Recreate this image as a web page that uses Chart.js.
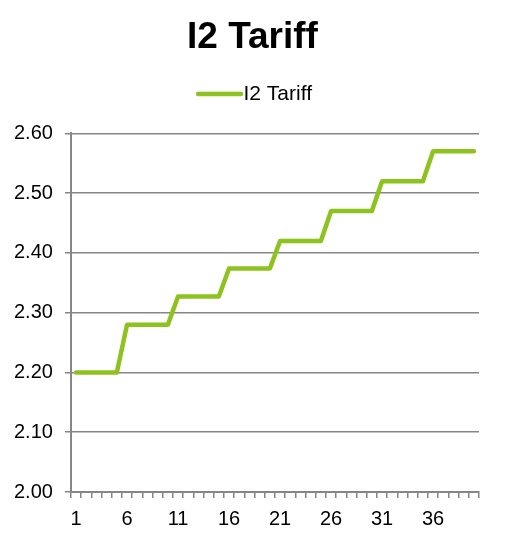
<!DOCTYPE html>
<html>
<head>
<meta charset="utf-8">
<script src="https://cdn.jsdelivr.net/npm/chart.js@4"></script>
<style>
  html, body { margin: 0; padding: 0; background: #fff; }
  #wrap { width: 507px; height: 542px; }
</style>
</head>
<body>
<div id="wrap"><canvas id="chartTariff" width="507" height="542"></canvas></div>
<script>
// data: 40 periods, stepping up every 5
const periods = [];
for (let i = 1; i <= 40; i++) periods.push(i);
const tariff = [
    2.20, 2.20, 2.20, 2.20, 2.20,
    2.28, 2.28, 2.28, 2.28, 2.28,
    2.327, 2.327, 2.327, 2.327, 2.327,
    2.374, 2.374, 2.374, 2.374, 2.374,
    2.42, 2.42, 2.42, 2.42, 2.42,
    2.47, 2.47, 2.47, 2.47, 2.47,
    2.52, 2.52, 2.52, 2.52, 2.52,
    2.57, 2.57, 2.57, 2.57, 2.57
];

const green = '#8DC21F';
const grey = '#868686';
Chart.defaults.font.family = '"Liberation Sans", Arial, sans-serif';
Chart.defaults.color = '#000';

// legend marker: a short thick line sitting right next to the text
const marker = document.createElement('canvas');
marker.width = 62;
marker.height = 8;
const mctx = marker.getContext('2d');
mctx.strokeStyle = green;
mctx.lineWidth = 4.5;
mctx.lineCap = 'round';
mctx.beginPath();
mctx.moveTo(16, 4);
mctx.lineTo(59, 4);
mctx.stroke();

const ctx = document.getElementById('chartTariff').getContext('2d');
new Chart(ctx, {
    type: 'line',
    data: {
        labels: periods,
        datasets: [{
            label: 'I2 Tariff',
            data: tariff,
            borderColor: green,
            backgroundColor: green,
            borderWidth: 4.5,
            borderCapStyle: 'round',
            borderJoinStyle: 'round',
            pointRadius: 0,
            tension: 0
        }]
    },
    options: {
        responsive: false,
        animation: false,
        layout: { padding: { left: 2, right: 4, top: 12, bottom: 2 } },
        plugins: {
            title: {
                display: true,
                text: 'I2 Tariff',
                font: { size: 37, weight: 'bold' },
                padding: { top: 4, bottom: 13 }
            },
            legend: {
                labels: {
                    usePointStyle: true,
                    pointStyle: marker,
                    pointStyleWidth: 40,
                    font: { size: 21 },
                    padding: 10
                }
            },
            tooltip: { enabled: false }
        },
        scales: {
            x: {
                offset: true,
                grid: {
                    offset: true,
                    drawOnChartArea: false,
                    drawTicks: true,
                    tickLength: 6,
                    color: grey,
                    lineWidth: 1.5
                },
                border: { color: grey, width: 2 },
                ticks: {
                    autoSkip: false,
                    maxRotation: 0,
                    font: { size: 20 },
                    padding: 9,
                    callback: (v, i) => (i % 5 === 0 ? periods[i] : '')
                }
            },
            // empty axes that only hold space above and right of the plot
            xTop: {
                position: 'top',
                display: true,
                grid: { display: false },
                border: { display: false },
                ticks: { display: false },
                afterFit: s => { s.height = 19; }
            },
            y: {
                min: 2.0,
                max: 2.6,
                grid: {
                    color: grey,
                    lineWidth: 1.5,
                    tickLength: 6
                },
                border: { color: grey, width: 2 },
                ticks: {
                    stepSize: 0.1,
                    font: { size: 20 },
                    padding: 12,
                    callback: v => v.toFixed(2)
                }
            },
            yRight: {
                position: 'right',
                display: true,
                grid: { display: false },
                border: { display: false },
                ticks: { display: false },
                afterFit: s => { s.width = 24; }
            }
        }
    }
});
</script>
</body>
</html>
